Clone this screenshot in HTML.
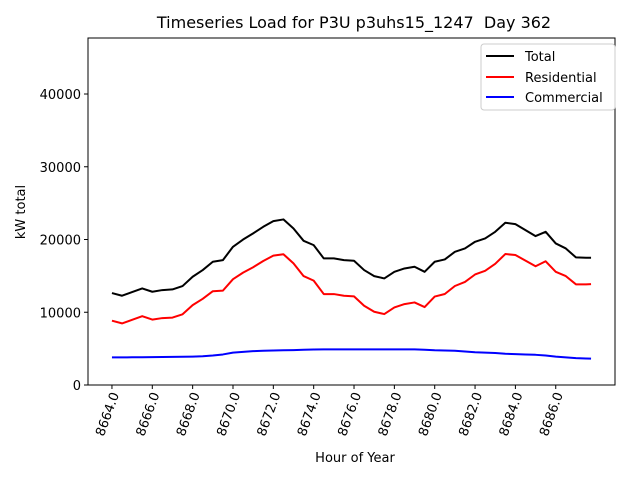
<!DOCTYPE html>
<html><head><meta charset="utf-8"><style>
body{margin:0;background:#fff}
svg{display:block;font-family:"DejaVu Sans","Liberation Sans",sans-serif}
</style></head><body>
<svg id="chart" width="640" height="480">
<rect width="640" height="480" fill="#fff"/>
<text x="354" y="28" font-size="16" text-anchor="middle" style="white-space:pre">Timeseries Load for P3U p3uhs15_1247&#160; Day 362</text>
<g id="plot"></g>
<text x="355" y="462" font-size="13" text-anchor="middle">Hour of Year</text>
<text transform="translate(25,212) rotate(-90)" font-size="13" text-anchor="middle">kW total</text>
<g>
<rect x="481" y="44" width="134" height="66" rx="3" fill="#fff" stroke="#ccc"/>
<line x1="486" y1="56" x2="514" y2="56" stroke="#000" stroke-width="2"/>
<text x="525" y="61" font-size="13">Total</text>
<line x1="486" y1="77" x2="514" y2="77" stroke="#f00" stroke-width="2"/>
<text x="525" y="82" font-size="13">Residential</text>
<line x1="486" y1="97" x2="514" y2="97" stroke="#00f" stroke-width="2"/>
<text x="525" y="102" font-size="13">Commercial</text>
</g>
</svg>
<script>
const hours = [8664,8664.5,8665,8665.5,8666,8666.5,8667,8667.5,8668,8668.5,8669,8669.5,8670,8670.5,8671,8671.5,8672,8672.5,8673,8673.5,8674,8674.5,8675,8675.5,8676,8676.5,8677,8677.5,8678,8678.5,8679,8679.5,8680,8680.5,8681,8681.5,8682,8682.5,8683,8683.5,8684,8684.5,8685,8685.5,8686,8686.5,8687,8687.5,8687.75];
const totalLoad = [12640,12270,12770,13280,12820,13050,13140,13600,14880,15800,16940,17170,19000,20000,20840,21750,22530,22760,21520,19820,19230,17400,17400,17170,17080,15800,14970,14650,15560,16020,16250,15560,16940,17260,18310,18770,19690,20150,21060,22300,22120,21290,20470,21060,19460,18770,17540,17490,17490];
const residentialLoad = [8840,8470,8960,9460,8990,9200,9270,9720,10980,11850,12890,12970,14550,15450,16190,17050,17780,17980,16720,14970,14350,12500,12500,12270,12180,10900,10070,9750,10660,11120,11350,10710,12160,12510,13610,14170,15190,15700,16660,18000,17870,17090,16320,17010,15560,14970,13840,13840,13870];
const commercialLoad = [3800,3800,3810,3820,3830,3850,3870,3880,3900,3950,4050,4200,4450,4550,4650,4700,4750,4780,4800,4850,4880,4900,4900,4900,4900,4900,4900,4900,4900,4900,4900,4850,4780,4750,4700,4600,4500,4450,4400,4300,4250,4200,4150,4050,3900,3800,3700,3650,3620];
const xTicks = [8664,8666,8668,8670,8672,8674,8676,8678,8680,8682,8684,8686];
const yTicks = [0,10000,20000,30000,40000];

const L=88,R=615,T=38,B=385;
const x0=8662.8125,x1=8688.9375,yMax=47700;
const sx=v=>L+(v-x0)/(x1-x0)*(R-L);
const sy=v=>B-v/yMax*(B-T);
const NS="http://www.w3.org/2000/svg";
const g=document.getElementById('plot');
function mk(tag,attrs){const e=document.createElementNS(NS,tag);for(const k in attrs)e.setAttribute(k,attrs[k]);g.appendChild(e);return e;}

function series(vals,color,name){
  const p=mk('polyline',{points:hours.map((h,i)=>sx(h)+','+sy(vals[i])).join(' '),fill:'none',stroke:color,'stroke-width':2,'stroke-linejoin':'round'});
  
  
}
series(totalLoad,'#000','total-line');
series(residentialLoad,'#f00','residential-line');
series(commercialLoad,'#00f','commercial-line');

const frame=mk('rect',{x:L,y:T,width:R-L,height:B-T,fill:'none',stroke:'#000','stroke-width':1});



xTicks.forEach(v=>{
  const x=sx(v);
  mk('line',{x1:x,y1:B,x2:x,y2:B+4,stroke:'#000'});
  const t=mk('text',{transform:`translate(${x+4},${B+8}) rotate(-70)`,'font-size':13,'text-anchor':'end','dominant-baseline':'middle'});
  t.textContent=v.toFixed(1);
  
  
});
yTicks.forEach(v=>{
  const y=sy(v);
  mk('line',{x1:L-4,y1:y,x2:L,y2:y,stroke:'#000'});
  const t=mk('text',{x:L-7,y:y+5,'font-size':13,'text-anchor':'end'});
  t.textContent=v;
  
  
});
</script>
</body></html>
